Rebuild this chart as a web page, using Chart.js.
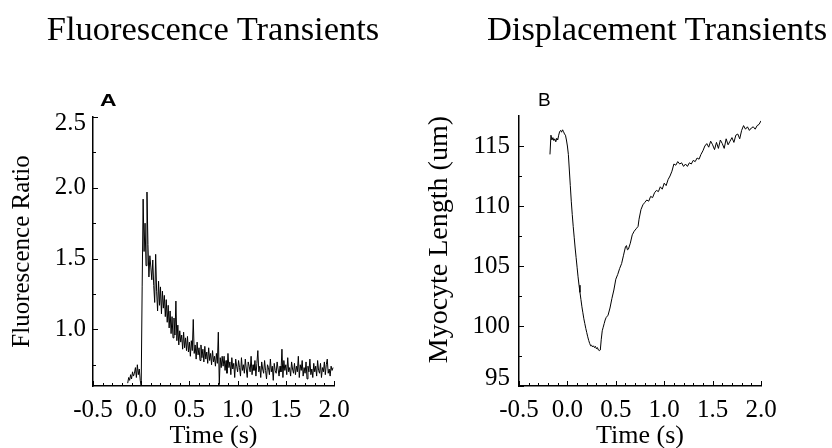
<!DOCTYPE html>
<html><head><meta charset="utf-8">
<script src="https://cdn.jsdelivr.net/npm/chart.js@4.4.1/dist/chart.umd.min.js"></script>
<style>
html,body{margin:0;padding:0;background:#fff;}
#wrap{position:relative;width:832px;height:448px;overflow:hidden;background:#fff;}
canvas{position:absolute;top:0;}
#ca{left:0;} #cb{left:416px;}
.t{position:absolute;font-family:"Liberation Serif","Times New Roman",serif;font-size:34.5px;line-height:34px;color:#000;white-space:nowrap;text-align:center;width:420px;}
.p{position:absolute;font-family:"Liberation Sans",Arial,sans-serif;color:#000;white-space:nowrap;transform-origin:0 0;}
</style></head><body>
<div id="wrap">
<canvas id="ca" width="416" height="448"></canvas>
<canvas id="cb" width="416" height="448"></canvas>
<div class="t" style="left:3px;top:11px;">Fluorescence Transients</div>
<div class="t" style="left:447px;top:11px;">Displacement Transients</div>
<div class="p" style="left:100px;top:92px;font-size:17px;line-height:17px;font-weight:bold;transform:scaleX(1.35);">A</div>
<div class="p" style="left:538px;top:90px;font-size:19px;line-height:19px;">B</div>
</div>
<script>
// ---------- data ----------
const timeTicks = [-0.5, 0.0, 0.5, 1.0, 1.5, 2.0];
const timeMinorTicks = [-0.4,-0.3,-0.2,-0.1,0.1,0.2,0.3,0.4,0.6,0.7,0.8,0.9,1.1,1.2,1.3,1.4,1.6,1.7,1.8,1.9];
const fluoTicks = [1.0, 1.5, 2.0, 2.5];
const fluoMinorTicks = [0.75, 1.25, 1.75, 2.25];
const lengthTicks = [95, 100, 105, 110, 115];
const lengthMinorTicks = [97.5, 102.5, 107.5, 112.5];

const fluoTime = [
-0.14,-0.13,-0.12,-0.11,-0.10,-0.09,-0.08,-0.07,-0.06,-0.05,-0.04,-0.03,-0.02,-0.01,
0.00,0.01,0.02,0.03,0.04,0.05,0.06,0.07,0.08,0.09,
0.10,0.11,0.12,0.13,0.14,0.15,0.16,0.17,0.18,0.19,
0.20,0.21,0.22,0.23,0.24,0.25,0.26,0.27,0.28,0.29,
0.30,0.31,0.32,0.33,0.34,0.35,0.36,0.37,0.38,0.39,
0.40,0.41,0.42,0.43,0.44,0.45,0.46,0.47,0.48,0.49,
0.50,0.51,0.52,0.53,0.54,0.55,0.56,0.57,0.58,0.59,
0.60,0.61,0.62,0.63,0.64,0.65,0.66,0.67,0.68,0.69,
0.70,0.71,0.72,0.73,0.74,0.75,0.76,0.77,0.78,0.79,
0.80,0.81,0.82,0.83,0.84,0.85,0.86,0.87,0.88,0.89,
0.90,0.91,0.92,0.93,0.94,0.95,0.96,0.97,0.98,0.99,
1.00,1.01,1.02,1.03,1.04,1.05,1.06,1.07,1.08,1.09,
1.10,1.11,1.12,1.13,1.14,1.15,1.16,1.17,1.18,1.19,
1.20,1.21,1.22,1.23,1.24,1.25,1.26,1.27,1.28,1.29,
1.30,1.31,1.32,1.33,1.34,1.35,1.36,1.37,1.38,1.39,
1.40,1.41,1.42,1.43,1.44,1.45,1.46,1.47,1.48,1.49,
1.50,1.51,1.52,1.53,1.54,1.55,1.56,1.57,1.58,1.59,
1.60,1.61,1.62,1.63,1.64,1.65,1.66,1.67,1.68,1.69,
1.70,1.71,1.72,1.73,1.74,1.75,1.76,1.77,1.78,1.79,
1.80,1.81,1.82,1.83,1.84,1.85,1.86,1.87,1.88,1.89,
1.90,1.91,1.92,1.93,1.94,1.95,1.96,1.97,1.98,1.99
];
const fluoRatio = [
0.62,0.66,0.64,0.68,0.65,0.70,0.67,0.69,0.73,0.66,0.75,0.68,0.72,0.64,
0.60,1.30,1.92,1.55,1.75,1.45,1.97,1.60,1.37,1.52,
1.44,1.35,1.49,1.31,1.19,1.53,1.27,1.13,1.34,1.17,
1.30,1.11,1.27,1.15,1.24,1.09,1.21,1.05,1.17,1.01,
1.13,0.97,1.09,0.94,1.08,0.96,1.20,0.92,1.03,0.89,
0.99,0.91,0.96,0.86,0.98,0.87,0.94,0.85,0.95,0.84,
0.91,0.81,0.92,0.85,1.07,0.83,0.89,0.79,0.91,0.82,
0.87,0.78,0.89,0.80,0.86,0.77,0.88,0.79,0.84,0.76,
0.87,0.78,0.83,0.75,0.85,0.77,0.81,0.74,0.83,0.76,
0.98,0.61,0.80,0.73,0.81,0.74,0.81,0.71,0.78,0.69,
0.83,0.73,0.77,0.68,0.80,0.72,0.76,0.66,0.79,0.74,
0.70,0.78,0.73,0.67,0.80,0.71,0.75,0.69,0.79,0.72,
0.66,0.77,0.74,0.70,0.81,0.68,0.75,0.71,0.78,0.67,
0.76,0.85,0.70,0.74,0.66,0.77,0.72,0.69,0.78,0.71,
0.65,0.75,0.73,0.68,0.79,0.70,0.74,0.64,0.76,0.71,
0.69,0.77,0.72,0.67,0.74,0.70,0.86,0.66,0.78,0.71,
0.75,0.68,0.80,0.70,0.73,0.67,0.77,0.72,0.69,0.76,
0.68,0.74,0.70,0.81,0.66,0.75,0.71,0.78,0.67,0.73,
0.69,0.77,0.65,0.74,0.70,0.79,0.68,0.72,0.66,0.76,
0.70,0.74,0.67,0.78,0.71,0.69,0.76,0.66,0.73,0.70,
0.77,0.68,0.75,0.79,0.69,0.72,0.67,0.74,0.71,0.73
];

const lengthTime = [
-0.18,-0.17,-0.16,-0.15,-0.14,-0.13,-0.12,-0.11,-0.10,-0.09,-0.08,-0.07,-0.06,-0.05,-0.04,-0.03,-0.02,-0.01,
0.00,0.01,0.02,0.03,0.04,0.05,0.06,0.07,0.08,0.09,0.10,0.11,0.12,0.13,0.14,0.15,0.16,0.17,0.18,0.19,
0.20,0.21,0.22,0.23,0.24,0.25,0.26,0.27,0.28,0.29,0.30,0.31,0.32,0.33,0.34,0.35,0.36,0.37,0.38,0.39,
0.40,0.42,0.44,0.46,0.48,0.50,0.52,0.54,0.56,0.58,0.60,0.61,0.62,0.63,0.65,0.67,0.69,0.71,0.73,0.74,
0.76,0.78,0.80,0.82,0.84,0.86,0.88,0.90,0.92,0.94,0.96,0.98,1.00,1.02,1.04,1.06,1.08,1.10,1.12,1.14,
1.16,1.18,1.20,1.22,1.24,1.26,1.28,1.30,1.32,1.34,1.36,1.38,1.40,1.42,1.44,1.46,1.48,1.50,1.52,1.54,
1.56,1.58,1.60,1.62,1.64,1.66,1.68,1.70,1.72,1.74,1.76,1.78,1.80,1.82,1.84,1.86,1.88,1.90,1.92,1.94,
1.96,1.98,2.00
];
const lengthUm = [
114.3,115.9,115.5,115.7,115.45,115.6,115.35,115.65,115.5,115.9,116.2,116.3,116.15,116.35,116.2,116.0,115.9,115.5,
115.0,114.3,113.0,111.7,110.4,109.3,108.3,107.4,106.5,105.7,104.9,104.1,103.4,102.8,102.2,101.6,101.1,100.6,100.2,99.8,
99.45,99.1,98.8,98.55,98.35,98.4,98.25,98.35,98.2,98.3,98.1,98.2,98.0,97.95,98.0,98.9,99.6,99.9,100.2,100.5,
100.7,100.9,101.5,102.3,103.0,103.9,104.3,104.8,105.2,105.9,106.6,106.7,106.35,106.4,106.9,107.6,107.9,108.1,108.3,108.9,
109.7,110.1,110.3,110.5,110.4,110.8,110.7,111.1,111.3,111.2,111.6,111.4,111.9,111.7,112.2,112.5,112.9,113.5,113.4,113.7,
113.5,113.6,113.3,113.5,113.3,113.6,113.5,113.8,113.7,114.0,113.9,114.3,114.6,115.0,115.2,114.9,115.4,115.1,114.7,115.3,
114.8,115.5,115.2,114.8,115.6,115.1,115.4,115.7,115.3,115.9,116.0,115.6,116.3,116.7,116.4,116.6,116.3,116.5,116.6,116.4,
116.7,116.8,117.1
];

// ---------- helpers ----------
const SERIF = '"Liberation Serif","Times New Roman",serif';

const innerTicks = {
  id: 'innerTicks',
  afterDatasetsDraw(chart, args, o) {
    const {ctx, chartArea} = chart;
    const xs = chart.scales.x, ys = chart.scales.y;
    ctx.save();
    ctx.strokeStyle = '#000';
    ctx.lineWidth = 1;
    ctx.beginPath();
    const xt = (vals, len) => vals.forEach(v => {
      const p = Math.round(xs.getPixelForValue(v)) + 0.5;
      ctx.moveTo(p, chartArea.bottom); ctx.lineTo(p, chartArea.bottom - len);
    });
    const yt = (vals, len) => vals.forEach(v => {
      const p = Math.round(ys.getPixelForValue(v)) + 0.5;
      ctx.moveTo(chartArea.left, p); ctx.lineTo(chartArea.left + len, p);
    });
    xt(o.xMajor, 5); xt(o.xMinor, 3);
    yt(o.yMajor, 5); yt(o.yMinor, 3);
    ctx.stroke();
    ctx.restore();
  }
};

function xScale() {
  return {
    type: 'linear', min: -0.5, max: 2.0,
    afterBuildTicks: s => { s.ticks = timeTicks.map(v => ({value: v})); },
    afterFit: s => { s.height = 62; },
    ticks: { autoSkip: false, maxRotation: 0, padding: 9, color: '#000',
      font: {family: SERIF, size: 25}, callback: v => Number(v).toFixed(1) },
    grid: { display: true, drawOnChartArea: false, drawTicks: false },
    border: { display: true, color: '#000', width: 1.5 },
    title: { display: true, text: 'Time (s)', color: '#000',
      font: {family: SERIF, size: 26, lineHeight: 0.9}, padding: 0 }
  };
}

function lineDataset(xs, ys) {
  return { data: xs.map((t, i) => ({x: t, y: ys[i]})), borderColor: '#000',
    borderWidth: 1, pointRadius: 0, tension: 0, fill: false };
}

// ---------- chart A ----------
new Chart(document.getElementById('ca'), {
  type: 'line',
  data: { datasets: [lineDataset(fluoTime, fluoRatio)] },
  options: {
    responsive: false, animation: false, devicePixelRatio: 1,
    layout: { padding: {left: 0, right: 82, top: 117, bottom: 0} },
    plugins: { legend: {display: false}, tooltip: {enabled: false},
      innerTicks: { xMajor: timeTicks, xMinor: timeMinorTicks, yMajor: fluoTicks, yMinor: fluoMinorTicks } },
    scales: {
      x: xScale(),
      y: {
        type: 'linear', min: 0.6, max: 2.5,
        afterBuildTicks: s => { s.ticks = fluoTicks.map(v => ({value: v})); },
        afterFit: s => { s.width = 93; },
        ticks: { padding: 7, color: '#000',
          font: c => ({family: SERIF, size: 25, lineHeight: (c.tick && c.tick.value === 2.5) ? 0.48 : 1.2}),
          callback: v => v === 2.5 ? ['', '2.5'] : Number(v).toFixed(1) },
        grid: { display: true, drawOnChartArea: false, drawTicks: false },
        border: { display: true, color: '#000', width: 1.5 },
        title: { display: true, text: 'Fluorescence Ratio', color: '#000',
          font: {family: SERIF, size: 25}, padding: {top: 7, bottom: 0} }
      }
    }
  },
  plugins: [innerTicks]
});

// ---------- chart B ----------
new Chart(document.getElementById('cb'), {
  type: 'line',
  data: { datasets: [lineDataset(lengthTime, lengthUm)] },
  options: {
    responsive: false, animation: false, devicePixelRatio: 1,
    layout: { padding: {left: 0, right: 71, top: 116, bottom: 0} },
    plugins: { legend: {display: false}, tooltip: {enabled: false},
      innerTicks: { xMajor: timeTicks, xMinor: timeMinorTicks, yMajor: lengthTicks, yMinor: lengthMinorTicks } },
    scales: {
      x: xScale(),
      y: {
        type: 'linear', min: 95, max: 117.5,
        afterBuildTicks: s => { s.ticks = lengthTicks.map(v => ({value: v})); },
        afterFit: s => { s.width = 103; },
        ticks: { padding: 9, color: '#000',
          font: c => ({family: SERIF, size: 25, lineHeight: (c.tick && c.tick.value === 95) ? 0.64 : 1.2}),
          callback: v => v === 95 ? ['95', ''] : String(v) },
        grid: { display: true, drawOnChartArea: false, drawTicks: false },
        border: { display: true, color: '#000', width: 1.5 },
        title: { display: true, text: 'Myocyte Length (um)', color: '#000', align: 'end',
          font: {family: SERIF, size: 28}, padding: {top: 7, bottom: 0} }
      }
    }
  },
  plugins: [innerTicks]
});
</script>
</body></html>
